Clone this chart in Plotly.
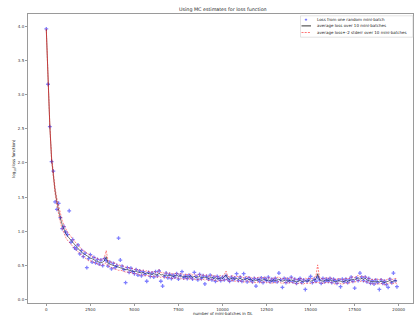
import plotly.graph_objects as go

# ---------------- data ----------------
iterations = list(range(0, 20000, 100))

batch_loss = [
    3.96, 3.15, 2.53, 2.02, 1.88, 1.43, 1.32, 1.41, 1.20, 1.04,
    1.07, 0.99, 0.95, 1.30, 0.84, 0.88, 0.76, 0.74, 0.80, 0.67,
    0.72, 0.63, 0.68, 0.47, 0.60, 0.66, 0.55, 0.62, 0.54, 0.59,
    0.52, 0.58, 0.50, 0.60, 0.57, 0.49, 0.55, 0.45, 0.53, 0.47,
    0.50, 0.90, 0.58, 0.49, 0.44, 0.25, 0.47, 0.40, 0.46, 0.41,
    0.38, 0.44, 0.36, 0.42, 0.35, 0.41, 0.37, 0.27, 0.40, 0.34,
    0.39, 0.33, 0.41, 0.35, 0.42, 0.27, 0.20, 0.34, 0.39, 0.32,
    0.37, 0.31, 0.36, 0.33, 0.38, 0.30, 0.36, 0.41, 0.32, 0.35,
    0.31, 0.36, 0.33, 0.30, 0.40, 0.34, 0.29, 0.37, 0.31, 0.35,
    0.23, 0.34, 0.30, 0.36, 0.29, 0.33, 0.27, 0.34, 0.31, 0.28,
    0.33, 0.29, 0.35, 0.30, 0.27, 0.33, 0.29, 0.32, 0.38, 0.28,
    0.33, 0.27, 0.38, 0.31, 0.26, 0.32, 0.29, 0.26, 0.31, 0.20,
    0.30, 0.27, 0.32, 0.25, 0.31, 0.28, 0.33, 0.26, 0.30, 0.27,
    0.31, 0.26, 0.39, 0.29, 0.18, 0.31, 0.25, 0.30, 0.27, 0.33,
    0.26, 0.30, 0.24, 0.29, 0.31, 0.25, 0.29, 0.15, 0.27, 0.30,
    0.34, 0.25, 0.30, 0.27, 0.33, 0.29, 0.24, 0.31, 0.26, 0.30,
    0.27, 0.31, 0.25, 0.30, 0.28, 0.24, 0.29, 0.19, 0.30, 0.26,
    0.30, 0.25, 0.29, 0.33, 0.27, 0.17, 0.32, 0.28, 0.39, 0.33,
    0.28, 0.33, 0.26, 0.31, 0.24, 0.28, 0.23, 0.29, 0.25, 0.15,
    0.29, 0.24, 0.27, 0.22, 0.18, 0.30, 0.25, 0.39, 0.28, 0.19,
]

avg_loss = [
    3.95, 3.14, 2.54, 2.06, 1.81, 1.59, 1.43, 1.30, 1.19, 1.10,
    1.03, 0.97, 0.93, 0.90, 0.86, 0.84, 0.80, 0.78, 0.75, 0.72,
    0.70, 0.67, 0.66, 0.64, 0.62, 0.61, 0.60, 0.58, 0.57, 0.56,
    0.55, 0.54, 0.55, 0.57, 0.63, 0.53, 0.52, 0.51, 0.50, 0.50,
    0.48, 0.47, 0.47, 0.46, 0.45, 0.44, 0.44, 0.43, 0.43, 0.42,
    0.41, 0.42, 0.40, 0.40, 0.39, 0.40, 0.38, 0.39, 0.38, 0.37,
    0.37, 0.38, 0.37, 0.36, 0.39, 0.36, 0.37, 0.35, 0.36, 0.35,
    0.36, 0.35, 0.34, 0.35, 0.36, 0.34, 0.35, 0.34, 0.33, 0.34,
    0.34, 0.33, 0.35, 0.33, 0.34, 0.32, 0.33, 0.34, 0.32, 0.33,
    0.32, 0.33, 0.31, 0.32, 0.33, 0.31, 0.32, 0.30, 0.31, 0.32,
    0.31, 0.33, 0.36, 0.31, 0.30, 0.31, 0.32, 0.30, 0.31, 0.30,
    0.31, 0.30, 0.29, 0.30, 0.31, 0.29, 0.30, 0.28, 0.29, 0.28,
    0.29, 0.30, 0.28, 0.29, 0.30, 0.28, 0.29, 0.28, 0.27, 0.29,
    0.28, 0.29, 0.30, 0.28, 0.27, 0.28, 0.29, 0.27, 0.28, 0.29,
    0.28, 0.27, 0.26, 0.27, 0.28, 0.27, 0.26, 0.28, 0.27, 0.28,
    0.27, 0.28, 0.29, 0.30, 0.38, 0.29, 0.28, 0.27, 0.28, 0.29,
    0.28, 0.29, 0.28, 0.27, 0.26, 0.27, 0.28, 0.27, 0.26, 0.27,
    0.28, 0.27, 0.28, 0.29, 0.30, 0.29, 0.31, 0.32, 0.30, 0.31,
    0.30, 0.31, 0.29, 0.28, 0.27, 0.26, 0.27, 0.26, 0.27, 0.26,
    0.27, 0.26, 0.25, 0.26, 0.27, 0.28, 0.26, 0.27, 0.28, 0.27,
]

std_err = [
    0.006, 0.008, 0.010, 0.012, 0.015, 0.020, 0.025, 0.030, 0.030, 0.030,
    0.030, 0.030, 0.030, 0.030, 0.030, 0.030, 0.025, 0.025, 0.025, 0.025,
    0.025, 0.020, 0.025, 0.020, 0.025, 0.020, 0.020, 0.020, 0.020, 0.020,
    0.020, 0.020, 0.020, 0.025, 0.045, 0.020, 0.020, 0.020, 0.018, 0.020,
    0.018, 0.020, 0.018, 0.018, 0.020, 0.018, 0.017, 0.018, 0.016, 0.017,
    0.016, 0.017, 0.016, 0.018, 0.016, 0.017, 0.016, 0.017, 0.016, 0.016,
    0.017, 0.016, 0.017, 0.016, 0.025, 0.017, 0.016, 0.016, 0.017, 0.016,
    0.016, 0.017, 0.016, 0.016, 0.017, 0.016, 0.016, 0.018, 0.016, 0.016,
    0.016, 0.017, 0.016, 0.016, 0.018, 0.016, 0.016, 0.017, 0.016, 0.016,
    0.017, 0.016, 0.016, 0.017, 0.016, 0.016, 0.017, 0.016, 0.016, 0.017,
    0.016, 0.018, 0.030, 0.017, 0.016, 0.016, 0.017, 0.016, 0.016, 0.017,
    0.016, 0.016, 0.017, 0.016, 0.016, 0.017, 0.016, 0.016, 0.017, 0.016,
    0.016, 0.017, 0.016, 0.016, 0.017, 0.016, 0.016, 0.017, 0.016, 0.016,
    0.016, 0.018, 0.016, 0.017, 0.016, 0.016, 0.017, 0.016, 0.016, 0.017,
    0.016, 0.016, 0.017, 0.016, 0.016, 0.017, 0.016, 0.018, 0.016, 0.016,
    0.017, 0.016, 0.018, 0.022, 0.065, 0.020, 0.016, 0.016, 0.017, 0.016,
    0.016, 0.017, 0.016, 0.016, 0.017, 0.016, 0.016, 0.017, 0.016, 0.016,
    0.016, 0.017, 0.016, 0.017, 0.018, 0.017, 0.018, 0.018, 0.017, 0.017,
    0.017, 0.018, 0.016, 0.016, 0.017, 0.016, 0.016, 0.017, 0.016, 0.016,
    0.016, 0.017, 0.016, 0.016, 0.017, 0.016, 0.016, 0.018, 0.016, 0.016,
]

x_ticks = [0, 2500, 5000, 7500, 10000, 12500, 15000, 17500, 20000]
y_ticks = [0.0, 0.5, 1.0, 1.5, 2.0, 2.5, 3.0, 3.5, 4.0]
y_tick_labels = ["0.0", "0.5", "1.0", "1.5", "2.0", "2.5", "3.0", "3.5", "4.0"]

title_text = "Using MC estimates for loss function"
x_label = "number of mini-batches in DL"
y_label = "log<sub>10</sub>(loss function)"
legend_labels = [
    "Loss from one random mini-batch",
    "average loss over 10 mini-batches",
    "average loss+-2 stderr over 10 mini-batches",
]

upper = [a + 2 * s for a, s in zip(avg_loss, std_err)]
lower = [a - 2 * s for a, s in zip(avg_loss, std_err)]

# ---------------- layout geometry ----------------
W, H = 414, 318
ML, MR, MT, MB = 28, 1, 14, 15
PW = W - ML - MR
PH = H - MT - MB


def px(xp):
    return (xp - ML) / PW


def py(yp):
    return (H - MB - yp) / PH


FONT = "DejaVu Sans"
BLUE = "rgba(0,0,255,0.5)"
RED = "rgba(255,0,0,0.6)"

fig = go.Figure()
fig.add_trace(go.Scatter(
    x=iterations, y=batch_loss, mode="markers",
    marker=dict(symbol="cross", size=3.2, color=BLUE, line=dict(width=0)),
    showlegend=False,
))
fig.add_trace(go.Scatter(
    x=iterations, y=avg_loss, mode="lines",
    line=dict(color="rgba(0,0,0,0.85)", width=0.6), showlegend=False,
))
for band in (upper, lower):
    fig.add_trace(go.Scatter(
        x=iterations, y=band, mode="lines",
        line=dict(color=RED, width=0.8, dash="2px,1.2px"), showlegend=False,
    ))

axis_common = dict(
    showgrid=False, zeroline=False, showline=True, mirror=True,
    linecolor="#9a9a9a", linewidth=1, ticks="outside", ticklen=2,
    tickwidth=0.6, tickcolor="#9a9a9a", automargin=False,
    tickfont=dict(family=FONT, size=4, color="#333333"),
)

fig.update_layout(
    width=W, height=H,
    margin=dict(l=ML, r=MR, t=MT, b=MB, pad=0, autoexpand=False),
    paper_bgcolor="white", plot_bgcolor="white",
    showlegend=False,
    xaxis=dict(range=[-1039, 20811], tickvals=x_ticks,
               ticktext=[str(v) for v in x_ticks], **axis_common),
    yaxis=dict(range=[-0.048, 4.177], tickvals=y_ticks,
               ticktext=y_tick_labels, **axis_common),
)

ann = [
    dict(x=px(222.5), y=py(9.7), text=title_text,
         font=dict(family=FONT, size=4.8, color="#222222")),
    dict(x=px(222.5), y=py(313.3), text=x_label,
         font=dict(family=FONT, size=4, color="#222222")),
    dict(x=px(13.3), y=py(158.5), text=y_label, textangle=-90,
         font=dict(family=FONT, size=4, color="#222222")),
]
row_y = [19.7, 25.9, 32.5]
for lab, ry in zip(legend_labels, row_y):
    ann.append(dict(x=px(315), y=py(ry), text=lab, xanchor="left",
                    font=dict(family=FONT, size=4, color="#222222")))
for a in ann:
    a.setdefault("xanchor", "center")
    a.update(xref="paper", yref="paper", yanchor="middle",
             showarrow=False)
fig.update_layout(annotations=ann)

shapes = [
    # legend frame
    dict(type="rect", x0=px(300.5), x1=px(412.8), y0=py(15.8), y1=py(37.2),
         line=dict(color="#d0d0d0", width=0.6),
         fillcolor="rgba(255,255,255,0.85)", layer="above"),
    # blue marker glyph
    dict(type="line", x0=px(304.8), x1=px(307.2), y0=py(row_y[0]),
         y1=py(row_y[0]), line=dict(color=BLUE, width=0.9), layer="above"),
    dict(type="line", x0=px(306), x1=px(306), y0=py(row_y[0] - 1.2),
         y1=py(row_y[0] + 1.2), line=dict(color=BLUE, width=0.9), layer="above"),
    # black line sample
    dict(type="line", x0=px(301.5), x1=px(311), y0=py(row_y[1]),
         y1=py(row_y[1]), line=dict(color="black", width=0.8), layer="above"),
    # red dashed sample
    dict(type="line", x0=px(301.5), x1=px(311), y0=py(row_y[2]),
         y1=py(row_y[2]), line=dict(color=RED, width=0.9, dash="2px,1.2px"),
         layer="above"),
]
for s in shapes:
    s.update(xref="paper", yref="paper")
fig.update_layout(shapes=shapes)

fig.write_html(
    "out.html",
    config={"displayModeBar": False},
    post_script="document.body.style.margin='0';document.body.style.padding='0';",
)
